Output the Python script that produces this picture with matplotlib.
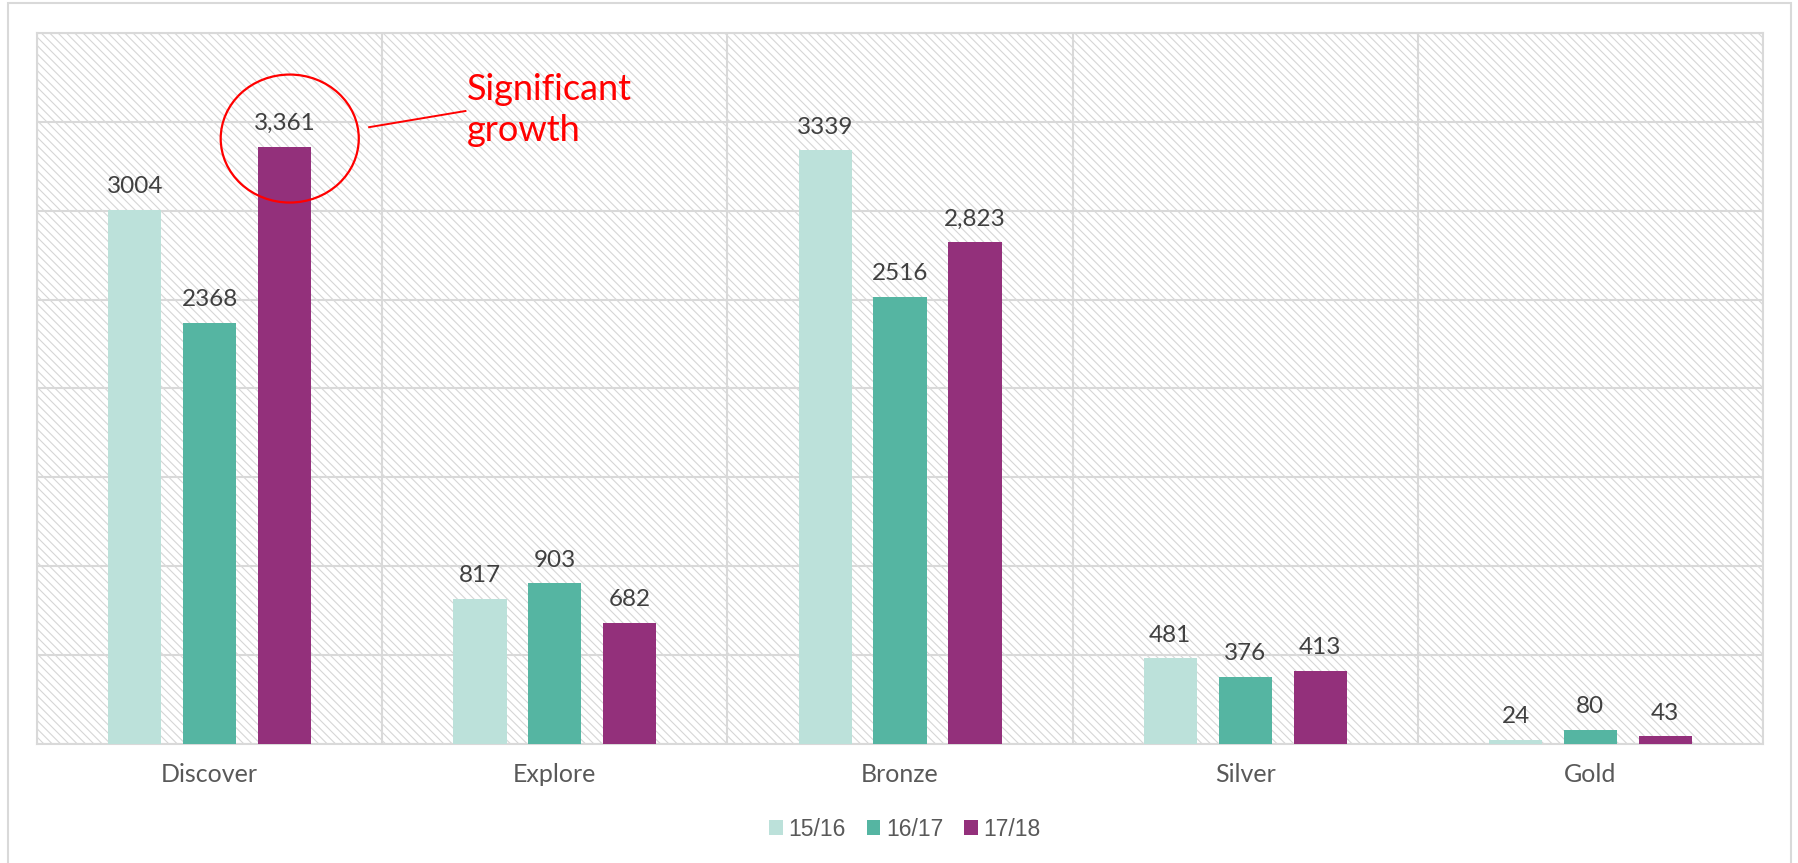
import numpy as np
import matplotlib
matplotlib.use("Agg")
import matplotlib.pyplot as plt
from matplotlib.patches import Rectangle, Ellipse
from matplotlib.lines import Line2D

# data
categories = ["Discover", "Explore", "Bronze", "Silver", "Gold"]
series = ["15/16", "16/17", "17/18"]
v1516 = [3004, 817, 3339, 481, 24]
v1617 = [2368, 903, 2516, 376, 80]
v1718 = [3361, 682, 2823, 413, 43]
colors = ["#bce1da", "#55b5a2", "#93307b"]
annot_text = "Significant\ngrowth"

grid_c = "#d9d9d9"
plt.rcParams["hatch.linewidth"] = 0.8

fig = plt.figure(figsize=(17.99, 8.63), dpi=100)
ax = fig.add_axes([0.0206, 0.1379, 0.9594, 0.8239])

# outer light frame around the chart
fig.add_artist(Rectangle((8 / 1799, -0.05), (1791 - 8) / 1799, 1.05 - 3 / 863,
                         transform=fig.transFigure, fill=False,
                         edgecolor=grid_c, linewidth=1.5))

# hatched plot background
ax.add_patch(Rectangle((0, 0), 1, 1, transform=ax.transAxes, fill=False,
                       hatch="\\\\\\\\", edgecolor="#d6d6d6", linewidth=0,
                       zorder=0.1))

x = np.arange(len(categories))
w = 0.154
step = 0.217
all_vals = [v1516, v1617, v1718]
for i, (vals, c, lab) in enumerate(zip(all_vals, colors, series)):
    xs = x + (i - 1) * step
    ax.bar(xs, vals, width=w, color=c, label=lab, zorder=3)
    for xx, v in zip(xs, vals):
        txt = "{:,}".format(v) if i == 2 else str(v)
        ax.annotate(txt, (xx, v), xytext=(0, 12), textcoords="offset points",
                    ha="center", va="baseline", fontsize=17.5, color="#404040",
                    family="Lato", zorder=4)

ax.set_xlim(-0.5, len(categories) - 0.5)
ax.set_ylim(0, 4000)
ax.set_yticks(np.arange(0, 4001, 500))
ax.set_yticklabels([])
ax.set_xticks(x)
ax.set_xticklabels(categories, fontsize=18, color="#595959", family="Lato")
ax.set_xticks(np.arange(-0.5, len(categories), 1), minor=True)
ax.tick_params(axis="both", which="both", length=0)
ax.tick_params(axis="x", pad=14)
ax.grid(True, axis="y", which="major", color=grid_c, linewidth=1.5)
ax.grid(True, axis="x", which="minor", color=grid_c, linewidth=1.5)
ax.set_axisbelow(True)
for s in ax.spines.values():
    s.set_color(grid_c)
    s.set_linewidth(1.5)

# callout around the Discover 17/18 bar
bx = x[0] + step
ax.add_patch(Ellipse((bx + 0.015, v1718[0] + 45), 0.40, 720, fill=False,
                     edgecolor="red", linewidth=1.6, zorder=5))
ax.add_line(Line2D([bx + 0.245, bx + 0.524], [v1718[0] + 109, v1718[0] + 200],
                   color="red", linewidth=1.4, zorder=5))
ax.text(bx + 0.528, 3775, annot_text, color="red", fontsize=26, family="Lato",
        ha="left", va="top", linespacing=1.3, zorder=5)

leg = fig.legend(loc="center", bbox_to_anchor=(0.503, 0.039), ncol=3,
                 frameon=False, handlelength=0.6, handleheight=0.6,
                 handletextpad=0.25, columnspacing=0.9,
                 prop={"family": "Liberation Sans", "size": 16.5})
for t in leg.get_texts():
    t.set_color("#595959")

fig.savefig("out.png", dpi=100)
